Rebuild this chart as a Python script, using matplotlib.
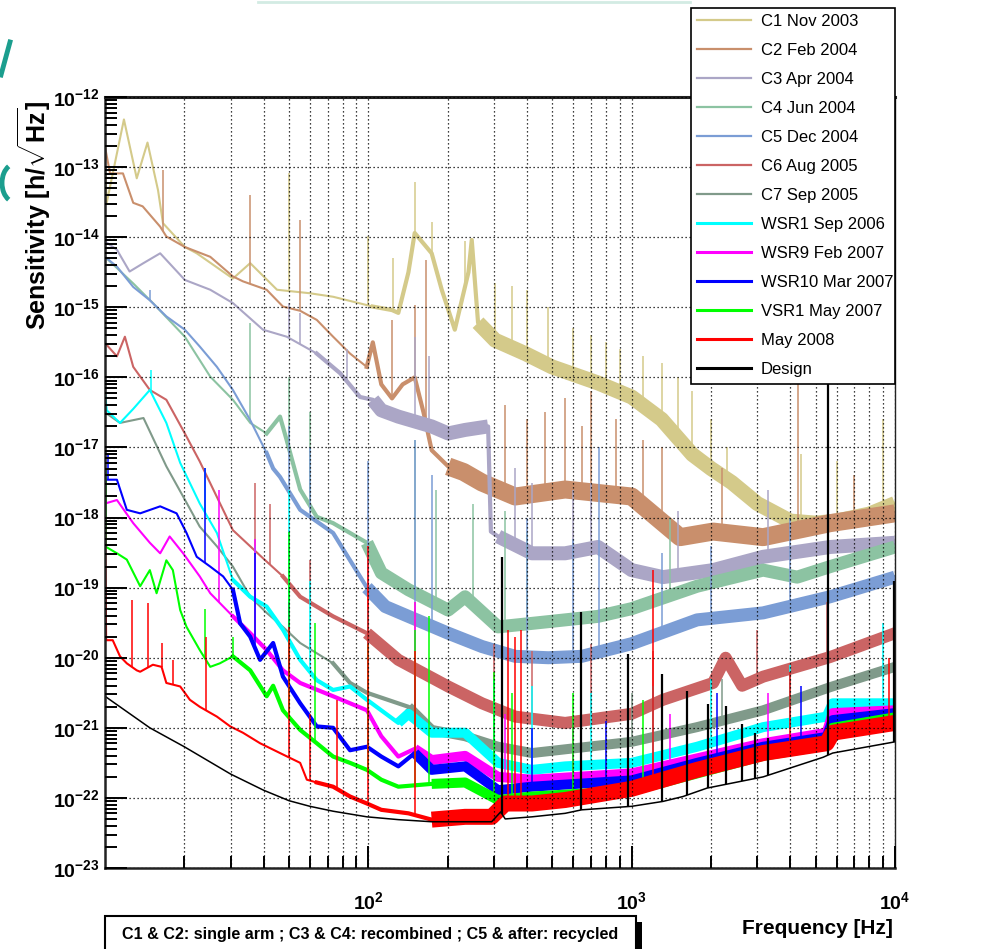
import numpy as np
import matplotlib
matplotlib.use('Agg')
import matplotlib.pyplot as plt
from matplotlib import font_manager
from matplotlib.lines import Line2D
from matplotlib.patches import Rectangle, Arc
from matplotlib.ticker import LogLocator, NullFormatter, FixedLocator

# fonts: narrow face for the horizontal labels if it is there
names = {f.name for f in font_manager.fontManager.ttflist}
narrow = 'Liberation Sans Narrow' if 'Liberation Sans Narrow' in names else 'Liberation Sans'
plt.rcParams['font.family'] = ['Liberation Sans', 'DejaVu Sans']
plt.rcParams['mathtext.fontset'] = 'custom'
plt.rcParams['mathtext.rm'] = 'Liberation Sans:bold'
plt.rcParams['mathtext.bf'] = 'Liberation Sans:bold'
plt.rcParams['mathtext.it'] = 'Liberation Sans:bold'

# ---- data: frequency [Hz], log10(sensitivity) ----
# C1 Nov 2003
c1_f = [10, 10.15, 11.8, 13.2, 14.5, 15.9, 16.6, 20.1, 22.3, 30.6, 35.6, 45, 60, 73.5, 104, 123, 130, 142, 150, 174,
        190, 213, 240, 247, 261, 303, 394, 498, 745, 1000, 1300, 1700, 2000, 2400, 3000, 4000, 5000, 6000, 8000, 10000]
c1_h = [-13.0, -13.51, -12.32, -13.16, -12.65, -13.33, -13.80, -14.14, -14.23, -14.59, -14.37, -14.75, -14.80, -14.85,
        -14.99, -15.04, -15.08, -14.5, -13.94, -14.23, -14.75, -15.32, -14.5, -14.04, -15.22, -15.47, -15.66, -15.85,
        -16.08, -16.28, -16.6, -17.1, -17.3, -17.5, -17.8, -18.05, -18.08, -18.05, -17.95, -17.8]
c1_sf = [50.1, 99.7, 124, 150, 174, 233, 303, 351, 402, 482, 600, 700, 800, 900, 1100, 1300, 1500, 1700, 2000, 2300,
         4400, 6000, 9000]
c1_sh = [-13.09, -13.99, -14.30, -13.21, -13.78, -14.06, -14.66, -14.7, -14.75, -15.0, -15.3, -15.4, -15.5, -15.6,
         -15.7, -15.8, -16.0, -16.2, -16.6, -17.0, -17.1, -17.2, -16.6]

# C2 Feb 2004
c2_f = [10, 10.45, 11.7, 12.8, 13.9, 16.2, 17.1, 20.1, 25.1, 30.6, 33.4, 41.1, 47.4, 55.1, 63.7, 73.5, 85.2, 98.6,
        104, 112, 123, 135, 150, 162, 174, 201, 230, 270, 361, 559, 1000, 1527, 2038, 3157, 5672, 10000]
c2_h = [-12.71, -13.09, -13.09, -13.51, -13.56, -13.85, -13.99, -14.14, -14.28, -14.56, -14.63, -14.75, -14.99, -15.05,
        -15.18, -15.42, -15.66, -15.85, -15.5, -16.1, -16.3, -16.1, -16.0, -16.5, -17.04, -17.27, -17.35, -17.5,
        -17.7, -17.6, -17.7, -18.28, -18.2, -18.28, -18.08, -17.94]
c2_sf = [16.6, 35.6, 55.1, 123, 150, 165, 330, 400, 470, 560, 650, 700, 870, 1100, 1300, 2200, 4300, 7000]
c2_sh = [-13.04, -13.40, -13.75, -15.18, -14.97, -14.33, -16.4, -16.6, -16.5, -16.3, -16.7, -16.2, -16.6, -16.9,
         -17.0, -17.3, -15.9, -17.4]

# C3 Apr 2004
c3_f = [10, 11.1, 12.4, 14.0, 16.2, 20.1, 25.1, 30.6, 39.8, 49, 63.7, 78.1, 93, 104, 112, 130, 174, 201, 233, 285,
        292, 311, 418, 559, 745, 1000, 1315, 2038, 3157, 5672, 10000]
c3_h = [-14.06, -14.18, -14.49, -14.37, -14.23, -14.61, -14.75, -14.94, -15.32, -15.42, -15.66, -15.94, -16.28, -16.32,
        -16.47, -16.56, -16.70, -16.8, -16.75, -16.7, -18.2, -18.27, -18.51, -18.51, -18.42, -18.75, -18.85, -18.75,
        -18.56, -18.42, -18.36]
c3_sf = [50.1, 55, 82.8, 150, 170, 360, 420, 600, 700, 1500, 3300]
c3_sh = [-14.94, -15.08, -15.6, -15.42, -15.7, -17.3, -17.5, -17.6, -17.5, -17.9, -17.6]

# C4 Jun 2004
c4_f = [10, 12.8, 15.2, 20.1, 25.1, 30.6, 35.6, 41.1, 46.2, 49, 55.1, 63.7, 73.5, 98.8, 112, 142, 201, 233, 311, 418,
        559, 745, 1000, 1772, 3157, 4250, 5672, 10000]
c4_h = [-14.28, -14.66, -14.94, -15.42, -15.99, -16.32, -16.65, -16.8, -16.56, -16.9, -17.6, -17.99, -18.08, -18.36,
        -18.79, -19.03, -19.32, -19.13, -19.56, -19.51, -19.46, -19.41, -19.3, -18.98, -18.75, -18.85, -18.7, -18.42]
c4_sf = [35.6, 50.1, 60, 150, 180, 250, 330, 400, 1400]
c4_sh = [-15.22, -16.0, -16.5, -16.9, -17.6, -17.8, -17.9, -18.2, -18.0]

# C5 Dec 2004
c5_f = [10, 11.1, 12.8, 14.8, 17.1, 20.1, 22.9, 26.6, 30.6, 35.6, 41.1, 43.5, 46.2, 55.1, 73.5, 98.8, 116, 142, 201,
        270, 361, 482, 646, 1000, 1772, 3157, 5672, 10000]
c5_h = [-14.28, -14.42, -14.71, -14.9, -15.13, -15.32, -15.56, -15.85, -16.18, -16.61, -17.08, -17.3, -17.42, -17.89,
        -18.22, -19.0, -19.27, -19.41, -19.65, -19.84, -19.98, -20.0, -19.98, -19.8, -19.46, -19.36, -19.13, -18.85]
c5_sf = [14.8, 50.1, 60, 99.7, 150, 174, 400, 600, 750, 1300, 2000, 4000]
c5_sh = [-14.75, -16.7, -17.0, -17.2, -16.9, -17.4, -18.0, -18.3, -17.0, -18.5, -18.4, -18.0]

# C6 Aug 2005
c6_f = [10, 11.1, 11.9, 12.8, 14.8, 17.1, 20.1, 22.9, 30.6, 39.8, 47.4, 55.1, 73.5, 98.8, 130, 201, 270, 361, 559,
        1000, 1315, 2038, 2274, 2626, 3157, 5672, 10000]
c6_h = [-15.51, -15.7, -15.42, -15.85, -16.18, -16.32, -16.8, -17.2, -18.18, -18.58, -18.84, -19.13, -19.41, -19.65,
        -20.03, -20.41, -20.65, -20.84, -20.93, -20.8, -20.6, -20.36, -20.0, -20.4, -20.27, -19.99, -19.65]
c6_sf = [37.1, 42.4, 50.1, 60, 100, 150, 300, 420, 700, 1200, 3000, 5500]
c6_sh = [-17.5, -17.8, -18.18, -18.6, -19.0, -19.2, -19.8, -19.9, -19.8, -19.9, -19.6, -19.2]

# C7 Sep 2005
c7_f = [10, 11.4, 14.0, 17.1, 19.8, 22.9, 26.6, 30.6, 35.6, 41.1, 47.4, 55.1, 73.5, 85.2, 98.8, 142, 174, 233, 311,
        418, 1000, 1772, 3157, 5672, 10000]
c7_h = [-16.5, -16.65, -16.58, -17.27, -17.70, -18.13, -18.41, -18.70, -19.13, -19.36, -19.56, -19.79, -20.08, -20.36,
        -20.5, -20.7, -21.03, -21.12, -21.27, -21.36, -21.2, -20.99, -20.75, -20.42, -20.13]
c7_sf = [50.1, 60, 150, 300, 1000, 2200]
c7_sh = [-18.5, -19.5, -20.0, -20.3, -20.5, -20.3]

# WSR1 Sep 2006
w1_f = [10, 10.15, 11.4, 12.8, 14.8, 17.1, 19.3, 22.9, 26.6, 30.6, 35.6, 41.1, 47.4, 55.1, 63.7, 73.5, 85.2, 98.8,
        130, 142, 174, 233, 311, 418, 559, 1000, 1772, 3157, 5500, 5800, 10000]
w1_h = [-16.2, -16.47, -16.65, -16.45, -16.18, -16.65, -17.22, -17.8, -18.22, -18.89, -19.13, -19.27, -19.6, -20.03,
        -20.32, -20.46, -20.41, -20.6, -20.93, -20.8, -21.07, -21.07, -21.5, -21.6, -21.55, -21.5, -21.27, -20.99,
        -20.84, -20.65, -20.65]
w1_sf = [15, 24, 37, 50.1, 60, 100, 150, 300, 420, 700, 1200, 2000, 4000, 9000]
w1_sh = [-15.9, -17.3, -18.4, -17.6, -18.9, -19.3, -19.9, -20.3, -20.4, -20.5, -20.4, -20.3, -20.1, -19.5]

# WSR9 Feb 2007
w9_f = [10, 11.1, 12.8, 14.8, 16.2, 17.6, 19.8, 22.9, 25.1, 30.6, 35.6, 41.1, 47.4, 55.1, 73.5, 98.8, 112, 130, 150,
        174, 233, 311, 418, 1000, 3157, 5500, 5800, 10000]
w9_h = [-17.8, -17.75, -18.08, -18.36, -18.51, -18.27, -18.51, -18.84, -19.08, -19.41, -19.65, -19.89, -20.18, -20.36,
        -20.55, -20.75, -21.12, -21.41, -21.3, -21.46, -21.4, -21.70, -21.74, -21.65, -21.22, -21.07, -20.79, -20.75]
w9_sf = [27, 37, 50.1, 100, 150, 330, 600, 1400, 3300]
w9_sh = [-17.6, -18.3, -19.5, -20.0, -19.2, -20.8, -20.9, -20.8, -20.5]

# WSR10 Mar 2007
w10_f = [10, 11.1, 12.1, 13.6, 16.2, 18.7, 20.4, 22.3, 25.1, 28.1, 30.6, 32.6, 35.6, 38.8, 43.5, 47.4, 55.1, 63.7,
         73.5, 85.2, 98.8, 112, 130, 150, 174, 233, 311, 418, 1000, 1772, 3157, 5500, 5800, 10000]
w10_h = [-17.46, -17.46, -17.89, -17.94, -17.84, -17.94, -18.22, -18.56, -18.70, -18.84, -19.03, -19.51, -19.7, -20.03,
         -19.79, -20.27, -20.65, -20.98, -21.0, -21.32, -21.27, -21.41, -21.55, -21.36, -21.6, -21.55, -21.89, -21.84,
         -21.75, -21.5, -21.27, -21.13, -20.89, -20.79]
w10_sf = [10.3, 24, 37, 50.1, 100, 150, 420, 800, 2100, 4400]
w10_sh = [-17.1, -17.3, -18.5, -19.2, -20.4, -20.3, -21.0, -20.9, -20.5, -20.4]

# VSR1 May 2007
v1_f = [10, 11.1, 12.1, 13.6, 14.8, 15.7, 17.1, 18.1, 19.3, 20.4, 22.9, 25.1, 27.3, 30.6, 35.6, 41.1, 43.5, 47.4,
        55.1, 63.7, 73.5, 85.2, 98.8, 112, 130, 174, 233, 311, 418, 1000, 3157, 5500, 5800, 10000]
v1_h = [-18.41, -18.51, -18.6, -18.98, -18.75, -19.08, -18.61, -18.75, -19.32, -19.56, -19.89, -20.13, -20.08, -19.98,
        -20.18, -20.55, -20.4, -20.75, -21.03, -21.22, -21.41, -21.5, -21.6, -21.74, -21.84, -21.8, -21.78, -22.03,
        -21.98, -21.9, -21.4, -21.25, -21.0, -20.85]
v1_sf = [10.05, 24, 30.6, 50.1, 63, 100, 150, 170, 300, 350, 600, 1100]
v1_sh = [-17.3, -19.3, -19.7, -18.2, -19.5, -19.8, -19.6, -19.4, -20.2, -20.5, -20.5, -20.6]

# May 2008
r_f = [10, 10.1, 10.7, 11.4, 12.1, 13.2, 13.6, 15.2, 16.4, 17.1, 19.3, 21.0, 22.9, 26.6, 29.9, 33.4, 38.8, 46.2,
       55.1, 58.4, 63.7, 73.5, 85.2, 98.8, 112, 142, 174, 233, 294, 331, 418, 559, 1000, 1772, 3157, 5500, 5800, 10000]
r_h = [-18.0, -19.75, -19.75, -19.98, -20.08, -20.18, -20.2, -20.1, -20.13, -20.36, -20.41, -20.6, -20.7, -20.84,
       -20.98, -21.07, -21.22, -21.36, -21.5, -21.74, -21.78, -21.84, -21.98, -22.08, -22.17, -22.22, -22.31, -22.27,
       -22.27, -22.08, -22.08, -22.03, -21.87, -21.6, -21.36, -21.22, -21.07, -20.93]
r_sf = [12.7, 14.6, 16.4, 18.1, 24.2, 50.1, 60, 75.9, 100, 150, 340, 360, 380, 1200, 4000, 9500]
r_sh = [-19.18, -19.22, -19.79, -20.03, -19.7, -19.56, -20.8, -20.6, -18.41, -19.9, -19.6, -19.7, -19.6, -18.75,
        -20.2, -20.0]

# Design
d_f = [10, 14.8, 20, 30, 40, 50, 60, 73.5, 98.8, 130, 174, 294, 318, 331, 418, 559, 646, 1000, 1315, 1567, 1933,
       3157, 5333, 5800, 10000]
d_h = [-20.55, -21.0, -21.27, -21.66, -21.89, -22.04, -22.12, -22.19, -22.27, -22.31, -22.34, -22.34, -22.2, -22.30,
       -22.27, -22.22, -22.17, -22.12, -22.05, -21.98, -21.86, -21.7, -21.42, -21.36, -21.2]
d_sf = [321, 643, 968, 1301, 1623, 1950, 2274, 2626, 2943, 3281, 5574, 9900]
d_sh = [-18.56, -19.35, -19.95, -20.23, -20.47, -20.66, -20.69, -20.95, -21.08, -21.15, -16.1, -18.9]

labels = ['C1 Nov 2003', 'C2 Feb 2004', 'C3 Apr 2004', 'C4 Jun 2004', 'C5 Dec 2004', 'C6 Aug 2005',
          'C7 Sep 2005', 'WSR1 Sep 2006', 'WSR9 Feb 2007', 'WSR10 Mar 2007', 'VSR1 May 2007', 'May 2008', 'Design']
colors = ['#d4ca8a', '#c98f6c', '#aba6c6', '#8cc3a2', '#7b9dd5', '#cb6464', '#809a8a',
          '#00ffff', '#ff00ff', '#0000ff', '#00ff00', '#ff0000', '#000000']
series = [(c1_f, c1_h, c1_sf, c1_sh), (c2_f, c2_h, c2_sf, c2_sh), (c3_f, c3_h, c3_sf, c3_sh),
          (c4_f, c4_h, c4_sf, c4_sh), (c5_f, c5_h, c5_sf, c5_sh), (c6_f, c6_h, c6_sf, c6_sh),
          (c7_f, c7_h, c7_sf, c7_sh), (w1_f, w1_h, w1_sf, w1_sh), (w9_f, w9_h, w9_sf, w9_sh),
          (w10_f, w10_h, w10_sf, w10_sh), (v1_f, v1_h, v1_sf, v1_sh), (r_f, r_h, r_sf, r_sh),
          (d_f, d_h, d_sf, d_sh)]
# how the noisy trace looks: medium width from mid_from, thick band from band_from (px)
mid_from = [100, 90, 60, 40, 40, 40, 60, 30, 30, 30, 30, 60, None]
band_from = [250, 180, 100, 90, 90, 90, 140, 120, 140, 140, 140, 150, None]
band_px = [15, 18, 14, 13, 13, 12, 10, 10, 10, 10, 10, 16, 0]

fig = plt.figure(figsize=(9.85, 9.49), dpi=100)
ax = fig.add_axes([105 / 985, 1 - 868 / 949, 790 / 985, 771 / 949])
ax.set_xscale('log')
ax.set_yscale('log')

for (f, h, sf, sh), col, mf, bf, bp in zip(series, colors, mid_from, band_from, band_px):
    f = np.asarray(f, dtype=float)
    h = np.asarray(h, dtype=float)
    v = 10.0 ** h
    if bf is None:
        ax.plot(f, v, color=col, lw=1.1)
    else:
        ax.plot(f, v, color=col, lw=1.5)
        m = f >= mf
        ax.plot(f[m], v[m], color=col, lw=3.0, solid_joinstyle='round')
        # thick band, broken where the trace jumps by more than a decade
        m = f >= bf
        fb, vb = f[m], v[m].copy()
        jump = np.abs(np.diff(np.log10(vb))) > 1.0
        vb[1:][jump] = np.nan
        ax.plot(fb, vb, color=col, lw=bp * 0.72, solid_joinstyle='round', solid_capstyle='butt')
    sf = np.asarray(sf, dtype=float)
    base = 10.0 ** np.interp(np.log10(sf), np.log10(f), h)
    ax.vlines(sf, base, 10.0 ** np.asarray(sh), color=col, lw=1.6 if bf is None else 1.1)

ax.set_xlim(10, 1e4)
ax.set_ylim(1e-23, 1e-12)

# ticks
ax.xaxis.set_major_locator(FixedLocator([1e2, 1e3, 1e4]))
ax.set_xticklabels([r'$\mathbf{10^{2}}$', r'$\mathbf{10^{3}}$', r'$\mathbf{10^{4}}$'])
ax.xaxis.set_minor_locator(LogLocator(base=10, subs=np.arange(2, 10) * 1.0, numticks=30))
ax.xaxis.set_minor_formatter(NullFormatter())
ydec = np.arange(-23, -11)
ax.yaxis.set_major_locator(FixedLocator(10.0 ** ydec))
ax.set_yticklabels([r'$\mathbf{10^{%d}}$' % d for d in ydec])
ax.yaxis.set_minor_locator(LogLocator(base=10, subs=np.arange(2, 10) * 1.0, numticks=30))
ax.yaxis.set_minor_formatter(NullFormatter())
ax.tick_params(which='both', direction='in', top=False, right=False, width=1.4, color='black')
ax.tick_params(which='major', length=15.5)
ax.tick_params(which='minor', length=8.5)
ax.tick_params(axis='y', labelsize=14, pad=4)
ax.tick_params(axis='x', labelsize=14, pad=17)

ax.set_axisbelow(False)
ax.grid(True, which='major', axis='both', color='black', lw=0.9, linestyle=(0, (1, 2.2)))
ax.grid(True, which='minor', axis='x', color='black', lw=0.9, linestyle=(0, (1, 2.2)))

for side, lw in [('left', 1.8), ('bottom', 1.8), ('top', 2.2), ('right', 1.0)]:
    ax.spines[side].set_linewidth(lw)
    ax.spines[side].set_color('#222222')

# legend
handles = [Line2D([], [], color=c, lw=(1.6 if i < 7 else 2.2)) for i, c in enumerate(colors)]
leg = ax.legend(handles, labels, loc='upper left', mode='expand',
                bbox_to_anchor=(691 / 985, 388 / 949, 204 / 985, 553 / 949), bbox_transform=fig.transFigure,
                frameon=True, fancybox=False, framealpha=1, edgecolor='black',
                prop={'family': narrow, 'size': 12}, handlelength=3.2, handletextpad=0.6,
                labelspacing=0.84, borderpad=0.38, borderaxespad=0)
leg.get_frame().set_linewidth(1.2)
leg.set_zorder(10)

# axis titles
fig.text(893 / 985, 1 - 928 / 949, 'Frequency [Hz]', ha='right', va='center', fontsize=15,
         fontweight='bold', family=narrow)
fig.text(34 / 985, 1 - 100 / 949, r'Sensitivity [h/$\sqrt{\mathrm{Hz}}$]', rotation=90, ha='center', va='top',
         fontsize=18, fontweight='bold')

# note box at the bottom, with its shadow
fig.add_artist(Rectangle((636 / 985, 0), 6 / 985, 1 - 922 / 949, transform=fig.transFigure,
                         facecolor='black', edgecolor='none'))
fig.add_artist(Rectangle((105 / 985, -0.01), 531 / 985, 1 - 916 / 949 + 0.01, transform=fig.transFigure,
                         facecolor='white', edgecolor='black', lw=1.5))
fig.text(370 / 985, 1 - 934 / 949, 'C1 & C2: single arm ; C3 & C4: recombined ; C5 & after: recycled',
         ha='center', va='center', fontsize=11.6, fontweight='bold', family=narrow)

# teal marks at the left edge and the faint line at the top (slide decoration)
fig.add_artist(Line2D([1 / 985, 10 / 985], [1 - 75 / 949, 1 - 42 / 949], transform=fig.transFigure,
                      color='#1b9e8e', lw=3.5))
fig.add_artist(Arc((15 / 985, 1 - 183 / 949), 26 / 985, 38 / 949, theta1=110, theta2=250,
                   transform=fig.transFigure, color='#1b9e8e', lw=3.5))
fig.add_artist(Line2D([258 / 985, 690 / 985], [1 - 2 / 949, 1 - 2 / 949], transform=fig.transFigure,
                      color='#d3ebe3', lw=2))

fig.savefig('out.png', dpi=100)
